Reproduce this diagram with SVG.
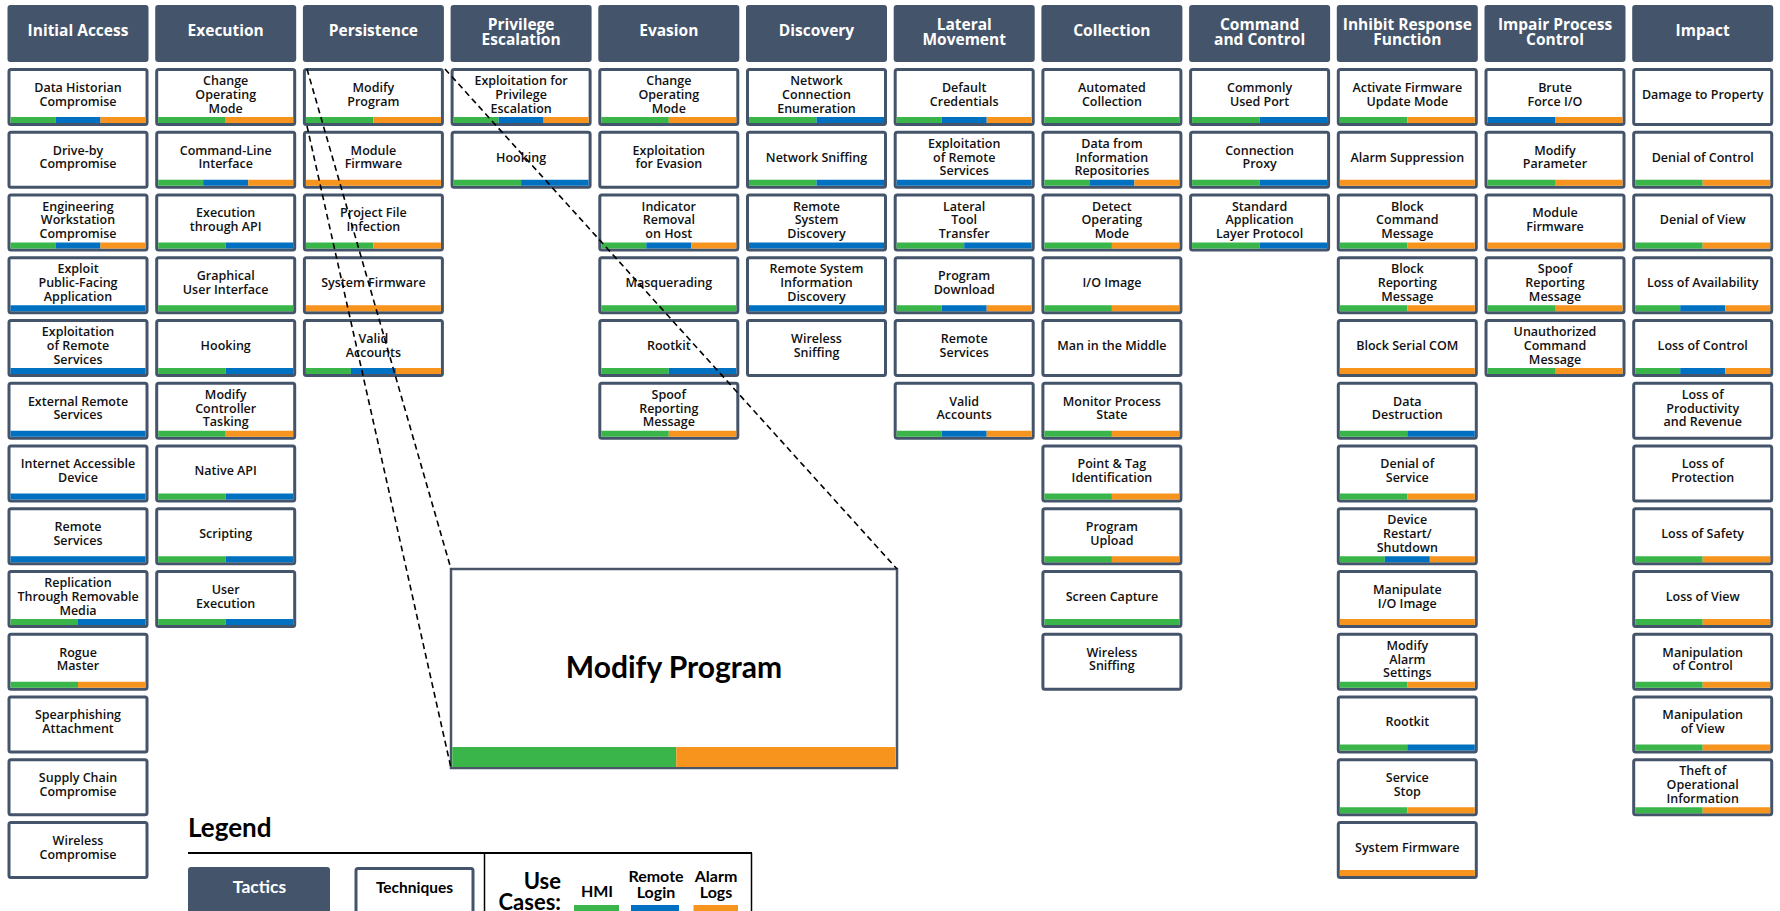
<svg xmlns="http://www.w3.org/2000/svg" xmlns:xlink="http://www.w3.org/1999/xlink" width="1780" height="911" viewBox="0 0 1780 911">
<style>
.hd{fill:#44546A}
.ht{fill:#fff;font-family:"Open Sans","Liberation Sans",sans-serif;font-weight:700;font-size:15.5px;text-anchor:middle}
.tb{fill:#fff;stroke:#44546A;stroke-width:3}
.tt{fill:#111;font-family:"Open Sans","Liberation Sans",sans-serif;font-weight:600;font-size:12.5px;text-anchor:middle}
.g{fill:#3AB54A}.b{fill:#0070C0}.o{fill:#F7941D}
.cn{stroke:#000;stroke-width:1.6;stroke-dasharray:6 4;fill:none}
.lg{font-family:Lato,"Liberation Sans",sans-serif;font-weight:700;fill:#000}
</style>
<defs>
<g id="box"><rect class="tb" x="1.5" y="1.5" width="138" height="55" rx="2"/></g>
<g id="gbo"><rect class="g" x="3" y="49" width="45" height="6"/><rect class="b" x="48" y="49" width="45" height="6"/><rect class="o" x="93" y="49" width="45" height="6"/></g>
<g id="gb"><rect class="g" x="3" y="49" width="67.5" height="6"/><rect class="b" x="70.5" y="49" width="67.5" height="6"/></g>
<g id="go"><rect class="g" x="3" y="49" width="67.5" height="6"/><rect class="o" x="70.5" y="49" width="67.5" height="6"/></g>
<g id="bo"><rect class="b" x="3" y="49" width="67.5" height="6"/><rect class="o" x="70.5" y="49" width="67.5" height="6"/></g>
<g id="g1"><rect class="g" x="3" y="49" width="135" height="6"/></g>
<g id="b1"><rect class="b" x="3" y="49" width="135" height="6"/></g>
<g id="o1"><rect class="o" x="3" y="49" width="135" height="6"/></g>
</defs>
<rect width="1780" height="911" fill="#fff"/>

<g id="tactics">
<g id="h-initial-access"><rect class="hd" x="7.5" y="5" width="141" height="57" rx="3"/><text class="ht" x="78" y="35.5">Initial Access</text></g>
<g id="h-execution"><rect class="hd" x="155.2" y="5" width="141" height="57" rx="3"/><text class="ht" x="225.7" y="35.5">Execution</text></g>
<g id="h-persistence"><rect class="hd" x="302.9" y="5" width="141" height="57" rx="3"/><text class="ht" x="373.4" y="35.5">Persistence</text></g>
<g id="h-privilege-escalation"><rect class="hd" x="450.6" y="5" width="141" height="57" rx="3"/><text class="ht" x="521.1" y="29.5">Privilege</text><text class="ht" x="521.1" y="44.5">Escalation</text></g>
<g id="h-evasion"><rect class="hd" x="598.3" y="5" width="141" height="57" rx="3"/><text class="ht" x="668.8" y="35.5">Evasion</text></g>
<g id="h-discovery"><rect class="hd" x="746" y="5" width="141" height="57" rx="3"/><text class="ht" x="816.5" y="35.5">Discovery</text></g>
<g id="h-lateral-movement"><rect class="hd" x="893.7" y="5" width="141" height="57" rx="3"/><text class="ht" x="964.2" y="29.5">Lateral</text><text class="ht" x="964.2" y="44.5">Movement</text></g>
<g id="h-collection"><rect class="hd" x="1041.4" y="5" width="141" height="57" rx="3"/><text class="ht" x="1111.9" y="35.5">Collection</text></g>
<g id="h-command-and-control"><rect class="hd" x="1189.1" y="5" width="141" height="57" rx="3"/><text class="ht" x="1259.6" y="29.5">Command</text><text class="ht" x="1259.6" y="44.5">and Control</text></g>
<g id="h-inhibit-response-function"><rect class="hd" x="1336.8" y="5" width="141" height="57" rx="3"/><text class="ht" x="1407.3" y="29.5">Inhibit Response</text><text class="ht" x="1407.3" y="44.5">Function</text></g>
<g id="h-impair-process-control"><rect class="hd" x="1484.5" y="5" width="141" height="57" rx="3"/><text class="ht" x="1555" y="29.5">Impair Process</text><text class="ht" x="1555" y="44.5">Control</text></g>
<g id="h-impact"><rect class="hd" x="1632.2" y="5" width="141" height="57" rx="3"/><text class="ht" x="1702.7" y="35.5">Impact</text></g>
</g>

<g id="techniques">
<!-- Initial Access -->
<g id="ia-data-historian" transform="translate(7.5,68)"><use href="#box"/><use href="#gbo"/><text class="tt" x="70.5" y="23.9">Data Historian<tspan x="70.5" y="37.65">Compromise</tspan></text></g>
<g id="ia-drive-by" transform="translate(7.5,130.75)"><use href="#box"/><text class="tt" x="70.5" y="23.9">Drive-by<tspan x="70.5" y="37.65">Compromise</tspan></text></g>
<g id="ia-eng-workstation" transform="translate(7.5,193.5)"><use href="#box"/><use href="#gbo"/><text class="tt" x="70.5" y="17.05">Engineering<tspan x="70.5" y="30.8">Workstation</tspan><tspan x="70.5" y="44.55">Compromise</tspan></text></g>
<g id="ia-exploit-public" transform="translate(7.5,256.25)"><use href="#box"/><use href="#b1"/><text class="tt" x="70.5" y="17.05">Exploit<tspan x="70.5" y="30.8">Public-Facing</tspan><tspan x="70.5" y="44.55">Application</tspan></text></g>
<g id="ia-exploit-remote" transform="translate(7.5,319)"><use href="#box"/><use href="#b1"/><text class="tt" x="70.5" y="17.05">Exploitation<tspan x="70.5" y="30.8">of Remote</tspan><tspan x="70.5" y="44.55">Services</tspan></text></g>
<g id="ia-external-remote" transform="translate(7.5,381.75)"><use href="#box"/><use href="#b1"/><text class="tt" x="70.5" y="23.9">External Remote<tspan x="70.5" y="37.65">Services</tspan></text></g>
<g id="ia-internet-device" transform="translate(7.5,444.5)"><use href="#box"/><use href="#b1"/><text class="tt" x="70.5" y="23.9">Internet Accessible<tspan x="70.5" y="37.65">Device</tspan></text></g>
<g id="ia-remote-services" transform="translate(7.5,507.25)"><use href="#box"/><use href="#b1"/><text class="tt" x="70.5" y="23.9">Remote<tspan x="70.5" y="37.65">Services</tspan></text></g>
<g id="ia-replication" transform="translate(7.5,570)"><use href="#box"/><use href="#gb"/><text class="tt" x="70.5" y="17.05">Replication<tspan x="70.5" y="30.8">Through Removable</tspan><tspan x="70.5" y="44.55">Media</tspan></text></g>
<g id="ia-rogue-master" transform="translate(7.5,632.75)"><use href="#box"/><use href="#go"/><text class="tt" x="70.5" y="23.9">Rogue<tspan x="70.5" y="37.65">Master</tspan></text></g>
<g id="ia-spearphishing" transform="translate(7.5,695.5)"><use href="#box"/><text class="tt" x="70.5" y="23.9">Spearphishing<tspan x="70.5" y="37.65">Attachment</tspan></text></g>
<g id="ia-supply-chain" transform="translate(7.5,758.25)"><use href="#box"/><text class="tt" x="70.5" y="23.9">Supply Chain<tspan x="70.5" y="37.65">Compromise</tspan></text></g>
<g id="ia-wireless" transform="translate(7.5,821)"><use href="#box"/><text class="tt" x="70.5" y="23.9">Wireless<tspan x="70.5" y="37.65">Compromise</tspan></text></g>
<!-- Execution -->
<g id="ex-change-mode" transform="translate(155.2,68)"><use href="#box"/><use href="#go"/><text class="tt" x="70.5" y="17.05">Change<tspan x="70.5" y="30.8">Operating</tspan><tspan x="70.5" y="44.55">Mode</tspan></text></g>
<g id="ex-cli" transform="translate(155.2,130.75)"><use href="#box"/><use href="#gbo"/><text class="tt" x="70.5" y="23.9">Command-Line<tspan x="70.5" y="37.65">Interface</tspan></text></g>
<g id="ex-api" transform="translate(155.2,193.5)"><use href="#box"/><use href="#gb"/><text class="tt" x="70.5" y="23.9">Execution<tspan x="70.5" y="37.65">through API</tspan></text></g>
<g id="ex-gui" transform="translate(155.2,256.25)"><use href="#box"/><use href="#g1"/><text class="tt" x="70.5" y="23.9">Graphical<tspan x="70.5" y="37.65">User Interface</tspan></text></g>
<g id="ex-hooking" transform="translate(155.2,319)"><use href="#box"/><use href="#gb"/><text class="tt" x="70.5" y="30.8">Hooking</text></g>
<g id="ex-modify-tasking" transform="translate(155.2,381.75)"><use href="#box"/><use href="#go"/><text class="tt" x="70.5" y="17.05">Modify<tspan x="70.5" y="30.8">Controller</tspan><tspan x="70.5" y="44.55">Tasking</tspan></text></g>
<g id="ex-native-api" transform="translate(155.2,444.5)"><use href="#box"/><use href="#gb"/><text class="tt" x="70.5" y="30.8">Native API</text></g>
<g id="ex-scripting" transform="translate(155.2,507.25)"><use href="#box"/><use href="#gb"/><text class="tt" x="70.5" y="30.8">Scripting</text></g>
<g id="ex-user-exec" transform="translate(155.2,570)"><use href="#box"/><use href="#gb"/><text class="tt" x="70.5" y="23.9">User<tspan x="70.5" y="37.65">Execution</tspan></text></g>
<!-- Persistence -->
<g id="pe-modify-program" transform="translate(302.9,68)"><use href="#box"/><use href="#go"/><text class="tt" x="70.5" y="23.9">Modify<tspan x="70.5" y="37.65">Program</tspan></text></g>
<g id="pe-module-firmware" transform="translate(302.9,130.75)"><use href="#box"/><use href="#o1"/><text class="tt" x="70.5" y="23.9">Module<tspan x="70.5" y="37.65">Firmware</tspan></text></g>
<g id="pe-project-file" transform="translate(302.9,193.5)"><use href="#box"/><use href="#go"/><text class="tt" x="70.5" y="23.9">Project File<tspan x="70.5" y="37.65">Infection</tspan></text></g>
<g id="pe-system-firmware" transform="translate(302.9,256.25)"><use href="#box"/><use href="#o1"/><text class="tt" x="70.5" y="30.8">System Firmware</text></g>
<g id="pe-valid-accounts" transform="translate(302.9,319)"><use href="#box"/><use href="#gbo"/><text class="tt" x="70.5" y="23.9">Valid<tspan x="70.5" y="37.65">Accounts</tspan></text></g>
<!-- Privilege Escalation -->
<g id="pr-exploitation" transform="translate(450.6,68)"><use href="#box"/><use href="#gbo"/><text class="tt" x="70.5" y="17.05">Exploitation for<tspan x="70.5" y="30.8">Privilege</tspan><tspan x="70.5" y="44.55">Escalation</tspan></text></g>
<g id="pr-hooking" transform="translate(450.6,130.75)"><use href="#box"/><use href="#gb"/><text class="tt" x="70.5" y="30.8">Hooking</text></g>
<!-- Evasion -->
<g id="ev-change-mode" transform="translate(598.3,68)"><use href="#box"/><use href="#go"/><text class="tt" x="70.5" y="17.05">Change<tspan x="70.5" y="30.8">Operating</tspan><tspan x="70.5" y="44.55">Mode</tspan></text></g>
<g id="ev-exploitation" transform="translate(598.3,130.75)"><use href="#box"/><text class="tt" x="70.5" y="23.9">Exploitation<tspan x="70.5" y="37.65">for Evasion</tspan></text></g>
<g id="ev-indicator-removal" transform="translate(598.3,193.5)"><use href="#box"/><use href="#gbo"/><text class="tt" x="70.5" y="17.05">Indicator<tspan x="70.5" y="30.8">Removal</tspan><tspan x="70.5" y="44.55">on Host</tspan></text></g>
<g id="ev-masquerading" transform="translate(598.3,256.25)"><use href="#box"/><use href="#g1"/><text class="tt" x="70.5" y="30.8">Masquerading</text></g>
<g id="ev-rootkit" transform="translate(598.3,319)"><use href="#box"/><use href="#gb"/><text class="tt" x="70.5" y="30.8">Rootkit</text></g>
<g id="ev-spoof" transform="translate(598.3,381.75)"><use href="#box"/><use href="#go"/><text class="tt" x="70.5" y="17.05">Spoof<tspan x="70.5" y="30.8">Reporting</tspan><tspan x="70.5" y="44.55">Message</tspan></text></g>
<!-- Discovery -->
<g id="di-network-conn" transform="translate(746,68)"><use href="#box"/><use href="#gb"/><text class="tt" x="70.5" y="17.05">Network<tspan x="70.5" y="30.8">Connection</tspan><tspan x="70.5" y="44.55">Enumeration</tspan></text></g>
<g id="di-network-sniffing" transform="translate(746,130.75)"><use href="#box"/><use href="#gb"/><text class="tt" x="70.5" y="30.8">Network Sniffing</text></g>
<g id="di-remote-system" transform="translate(746,193.5)"><use href="#box"/><use href="#b1"/><text class="tt" x="70.5" y="17.05">Remote<tspan x="70.5" y="30.8">System</tspan><tspan x="70.5" y="44.55">Discovery</tspan></text></g>
<g id="di-remote-info" transform="translate(746,256.25)"><use href="#box"/><use href="#b1"/><text class="tt" x="70.5" y="17.05">Remote System<tspan x="70.5" y="30.8">Information</tspan><tspan x="70.5" y="44.55">Discovery</tspan></text></g>
<g id="di-wireless-sniffing" transform="translate(746,319)"><use href="#box"/><text class="tt" x="70.5" y="23.9">Wireless<tspan x="70.5" y="37.65">Sniffing</tspan></text></g>
<!-- Lateral Movement -->
<g id="lm-default-creds" transform="translate(893.7,68)"><use href="#box"/><use href="#gbo"/><text class="tt" x="70.5" y="23.9">Default<tspan x="70.5" y="37.65">Credentials</tspan></text></g>
<g id="lm-exploit-remote" transform="translate(893.7,130.75)"><use href="#box"/><use href="#b1"/><text class="tt" x="70.5" y="17.05">Exploitation<tspan x="70.5" y="30.8">of Remote</tspan><tspan x="70.5" y="44.55">Services</tspan></text></g>
<g id="lm-tool-transfer" transform="translate(893.7,193.5)"><use href="#box"/><use href="#gb"/><text class="tt" x="70.5" y="17.05">Lateral<tspan x="70.5" y="30.8">Tool</tspan><tspan x="70.5" y="44.55">Transfer</tspan></text></g>
<g id="lm-program-download" transform="translate(893.7,256.25)"><use href="#box"/><use href="#gbo"/><text class="tt" x="70.5" y="23.9">Program<tspan x="70.5" y="37.65">Download</tspan></text></g>
<g id="lm-remote-services" transform="translate(893.7,319)"><use href="#box"/><text class="tt" x="70.5" y="23.9">Remote<tspan x="70.5" y="37.65">Services</tspan></text></g>
<g id="lm-valid-accounts" transform="translate(893.7,381.75)"><use href="#box"/><use href="#gbo"/><text class="tt" x="70.5" y="23.9">Valid<tspan x="70.5" y="37.65">Accounts</tspan></text></g>
<!-- Collection -->
<g id="co-automated" transform="translate(1041.4,68)"><use href="#box"/><use href="#g1"/><text class="tt" x="70.5" y="23.9">Automated<tspan x="70.5" y="37.65">Collection</tspan></text></g>
<g id="co-data-repos" transform="translate(1041.4,130.75)"><use href="#box"/><use href="#gbo"/><text class="tt" x="70.5" y="17.05">Data from<tspan x="70.5" y="30.8">Information</tspan><tspan x="70.5" y="44.55">Repositories</tspan></text></g>
<g id="co-detect-mode" transform="translate(1041.4,193.5)"><use href="#box"/><use href="#go"/><text class="tt" x="70.5" y="17.05">Detect<tspan x="70.5" y="30.8">Operating</tspan><tspan x="70.5" y="44.55">Mode</tspan></text></g>
<g id="co-io-image" transform="translate(1041.4,256.25)"><use href="#box"/><use href="#go"/><text class="tt" x="70.5" y="30.8">I/O Image</text></g>
<g id="co-mitm" transform="translate(1041.4,319)"><use href="#box"/><text class="tt" x="70.5" y="30.8">Man in the Middle</text></g>
<g id="co-monitor-state" transform="translate(1041.4,381.75)"><use href="#box"/><use href="#go"/><text class="tt" x="70.5" y="23.9">Monitor Process<tspan x="70.5" y="37.65">State</tspan></text></g>
<g id="co-point-tag" transform="translate(1041.4,444.5)"><use href="#box"/><use href="#go"/><text class="tt" x="70.5" y="23.9">Point &amp; Tag<tspan x="70.5" y="37.65">Identification</tspan></text></g>
<g id="co-program-upload" transform="translate(1041.4,507.25)"><use href="#box"/><use href="#go"/><text class="tt" x="70.5" y="23.9">Program<tspan x="70.5" y="37.65">Upload</tspan></text></g>
<g id="co-screen-capture" transform="translate(1041.4,570)"><use href="#box"/><use href="#g1"/><text class="tt" x="70.5" y="30.8">Screen Capture</text></g>
<g id="co-wireless-sniffing" transform="translate(1041.4,632.75)"><use href="#box"/><text class="tt" x="70.5" y="23.9">Wireless<tspan x="70.5" y="37.65">Sniffing</tspan></text></g>
<!-- Command and Control -->
<g id="cc-common-port" transform="translate(1189.1,68)"><use href="#box"/><use href="#gb"/><text class="tt" x="70.5" y="23.9">Commonly<tspan x="70.5" y="37.65">Used Port</tspan></text></g>
<g id="cc-conn-proxy" transform="translate(1189.1,130.75)"><use href="#box"/><use href="#gb"/><text class="tt" x="70.5" y="23.9">Connection<tspan x="70.5" y="37.65">Proxy</tspan></text></g>
<g id="cc-std-app-layer" transform="translate(1189.1,193.5)"><use href="#box"/><use href="#gb"/><text class="tt" x="70.5" y="17.05">Standard<tspan x="70.5" y="30.8">Application</tspan><tspan x="70.5" y="44.55">Layer Protocol</tspan></text></g>
<!-- Inhibit Response Function -->
<g id="ir-activate-fw" transform="translate(1336.8,68)"><use href="#box"/><use href="#go"/><text class="tt" x="70.5" y="23.9">Activate Firmware<tspan x="70.5" y="37.65">Update Mode</tspan></text></g>
<g id="ir-alarm-suppression" transform="translate(1336.8,130.75)"><use href="#box"/><use href="#o1"/><text class="tt" x="70.5" y="30.8">Alarm Suppression</text></g>
<g id="ir-block-command" transform="translate(1336.8,193.5)"><use href="#box"/><use href="#go"/><text class="tt" x="70.5" y="17.05">Block<tspan x="70.5" y="30.8">Command</tspan><tspan x="70.5" y="44.55">Message</tspan></text></g>
<g id="ir-block-reporting" transform="translate(1336.8,256.25)"><use href="#box"/><use href="#go"/><text class="tt" x="70.5" y="17.05">Block<tspan x="70.5" y="30.8">Reporting</tspan><tspan x="70.5" y="44.55">Message</tspan></text></g>
<g id="ir-block-serial" transform="translate(1336.8,319)"><use href="#box"/><use href="#o1"/><text class="tt" x="70.5" y="30.8">Block Serial COM</text></g>
<g id="ir-data-destruction" transform="translate(1336.8,381.75)"><use href="#box"/><use href="#gb"/><text class="tt" x="70.5" y="23.9">Data<tspan x="70.5" y="37.65">Destruction</tspan></text></g>
<g id="ir-dos" transform="translate(1336.8,444.5)"><use href="#box"/><use href="#go"/><text class="tt" x="70.5" y="23.9">Denial of<tspan x="70.5" y="37.65">Service</tspan></text></g>
<g id="ir-device-restart" transform="translate(1336.8,507.25)"><use href="#box"/><use href="#gbo"/><text class="tt" x="70.5" y="17.05">Device<tspan x="70.5" y="30.8">Restart/</tspan><tspan x="70.5" y="44.55">Shutdown</tspan></text></g>
<g id="ir-manipulate-io" transform="translate(1336.8,570)"><use href="#box"/><use href="#o1"/><text class="tt" x="70.5" y="23.9">Manipulate<tspan x="70.5" y="37.65">I/O Image</tspan></text></g>
<g id="ir-modify-alarm" transform="translate(1336.8,632.75)"><use href="#box"/><use href="#go"/><text class="tt" x="70.5" y="17.05">Modify<tspan x="70.5" y="30.8">Alarm</tspan><tspan x="70.5" y="44.55">Settings</tspan></text></g>
<g id="ir-rootkit" transform="translate(1336.8,695.5)"><use href="#box"/><use href="#gb"/><text class="tt" x="70.5" y="30.8">Rootkit</text></g>
<g id="ir-service-stop" transform="translate(1336.8,758.25)"><use href="#box"/><use href="#go"/><text class="tt" x="70.5" y="23.9">Service<tspan x="70.5" y="37.65">Stop</tspan></text></g>
<g id="ir-system-firmware" transform="translate(1336.8,821)"><use href="#box"/><use href="#o1"/><text class="tt" x="70.5" y="30.8">System Firmware</text></g>
<!-- Impair Process Control -->
<g id="ip-brute-force" transform="translate(1484.5,68)"><use href="#box"/><use href="#bo"/><text class="tt" x="70.5" y="23.9">Brute<tspan x="70.5" y="37.65">Force I/O</tspan></text></g>
<g id="ip-modify-param" transform="translate(1484.5,130.75)"><use href="#box"/><use href="#go"/><text class="tt" x="70.5" y="23.9">Modify<tspan x="70.5" y="37.65">Parameter</tspan></text></g>
<g id="ip-module-fw" transform="translate(1484.5,193.5)"><use href="#box"/><use href="#o1"/><text class="tt" x="70.5" y="23.9">Module<tspan x="70.5" y="37.65">Firmware</tspan></text></g>
<g id="ip-spoof" transform="translate(1484.5,256.25)"><use href="#box"/><use href="#go"/><text class="tt" x="70.5" y="17.05">Spoof<tspan x="70.5" y="30.8">Reporting</tspan><tspan x="70.5" y="44.55">Message</tspan></text></g>
<g id="ip-unauth-cmd" transform="translate(1484.5,319)"><use href="#box"/><use href="#go"/><text class="tt" x="70.5" y="17.05">Unauthorized<tspan x="70.5" y="30.8">Command</tspan><tspan x="70.5" y="44.55">Message</tspan></text></g>
<!-- Impact -->
<g id="im-damage" transform="translate(1632.2,68)"><use href="#box"/><text class="tt" x="70.5" y="30.8">Damage to Property</text></g>
<g id="im-denial-control" transform="translate(1632.2,130.75)"><use href="#box"/><use href="#go"/><text class="tt" x="70.5" y="30.8">Denial of Control</text></g>
<g id="im-denial-view" transform="translate(1632.2,193.5)"><use href="#box"/><use href="#go"/><text class="tt" x="70.5" y="30.8">Denial of View</text></g>
<g id="im-loss-availability" transform="translate(1632.2,256.25)"><use href="#box"/><use href="#gbo"/><text class="tt" x="70.5" y="30.8">Loss of Availability</text></g>
<g id="im-loss-control" transform="translate(1632.2,319)"><use href="#box"/><use href="#gbo"/><text class="tt" x="70.5" y="30.8">Loss of Control</text></g>
<g id="im-loss-productivity" transform="translate(1632.2,381.75)"><use href="#box"/><text class="tt" x="70.5" y="17.05">Loss of<tspan x="70.5" y="30.8">Productivity</tspan><tspan x="70.5" y="44.55">and Revenue</tspan></text></g>
<g id="im-loss-protection" transform="translate(1632.2,444.5)"><use href="#box"/><text class="tt" x="70.5" y="23.9">Loss of<tspan x="70.5" y="37.65">Protection</tspan></text></g>
<g id="im-loss-safety" transform="translate(1632.2,507.25)"><use href="#box"/><use href="#go"/><text class="tt" x="70.5" y="30.8">Loss of Safety</text></g>
<g id="im-loss-view" transform="translate(1632.2,570)"><use href="#box"/><use href="#go"/><text class="tt" x="70.5" y="30.8">Loss of View</text></g>
<g id="im-manip-control" transform="translate(1632.2,632.75)"><use href="#box"/><use href="#go"/><text class="tt" x="70.5" y="23.9">Manipulation<tspan x="70.5" y="37.65">of Control</tspan></text></g>
<g id="im-manip-view" transform="translate(1632.2,695.5)"><use href="#box"/><use href="#go"/><text class="tt" x="70.5" y="23.9">Manipulation<tspan x="70.5" y="37.65">of View</tspan></text></g>
<g id="im-theft-info" transform="translate(1632.2,758.25)"><use href="#box"/><use href="#go"/><text class="tt" x="70.5" y="17.05">Theft of<tspan x="70.5" y="30.8">Operational</tspan><tspan x="70.5" y="44.55">Information</tspan></text></g>
</g>

<g id="zoom-modify-program">
<rect x="451" y="569" width="446" height="199" fill="#fff" stroke="#4A5568" stroke-width="2.5"/>
<rect class="g" x="452.3" y="747" width="224" height="20"/>
<rect class="o" x="676.3" y="747" width="219.4" height="20"/>
<text class="lg" x="674" y="678" font-size="30" text-anchor="middle">Modify Program</text>
</g>

<g id="connectors">
<path class="cn" d="M307 69 L451 569"/>
<path class="cn" d="M307 126 L451 768"/>
<path class="cn" d="M445 69 L897 569"/>
</g>

<g id="legend">
<text class="lg" x="188" y="837" font-size="26">Legend</text>
<line x1="188" y1="853" x2="752" y2="853" stroke="#000" stroke-width="2"/>
<line x1="484.5" y1="853" x2="484.5" y2="911" stroke="#000" stroke-width="1.5"/>
<line x1="751.5" y1="853" x2="751.5" y2="911" stroke="#000" stroke-width="1.5"/>
<g id="legend-tactics"><rect class="hd" x="188" y="867" width="142" height="60" rx="3"/><text class="lg" x="259.5" y="893" font-size="17.5" style="fill:#fff" text-anchor="middle">Tactics</text></g>
<g id="legend-techniques"><rect class="tb" x="356" y="868.5" width="117" height="55" rx="2"/><text class="lg" x="414.5" y="892.5" font-size="15.5" text-anchor="middle">Techniques</text></g>
<text class="lg" x="561" y="889" font-size="22" text-anchor="end">Use</text>
<text class="lg" x="561" y="910" font-size="22" text-anchor="end">Cases:</text>
<g id="legend-hmi"><text class="lg" x="597" y="897" font-size="16" text-anchor="middle">HMI</text><rect class="g" x="574" y="905" width="45" height="8"/></g>
<g id="legend-remote-login"><text class="lg" x="656" y="882" font-size="16" text-anchor="middle">Remote</text><text class="lg" x="656" y="898" font-size="16" text-anchor="middle">Login</text><rect class="b" x="631" y="905" width="48" height="8"/></g>
<g id="legend-alarm-logs"><text class="lg" x="716" y="882" font-size="16" text-anchor="middle">Alarm</text><text class="lg" x="716" y="898" font-size="16" text-anchor="middle">Logs</text><rect class="o" x="693.5" y="905" width="44.5" height="8"/></g>
</g>
</svg>
